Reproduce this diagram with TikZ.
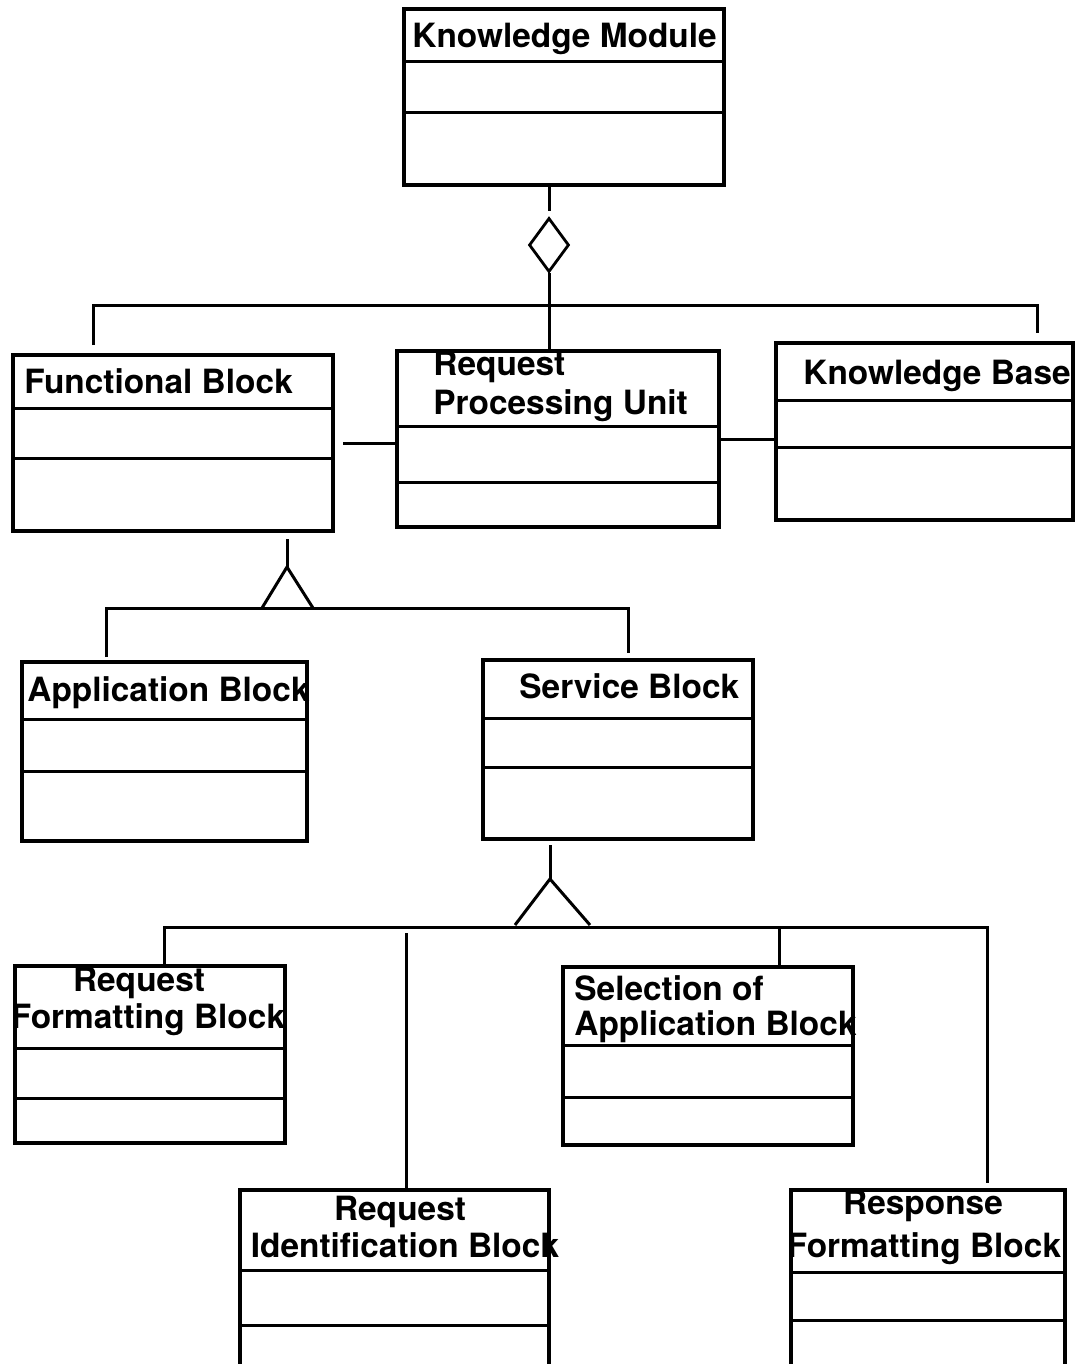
\documentclass[tikz,border=0pt]{standalone}
\usepackage{fontspec}
\setmainfont{TeX Gyre Heros}
\usetikzlibrary{shapes.geometric}

\tikzset{
  classbox/.style={draw,line width=1.6pt,inner sep=0pt,outer sep=0pt,anchor=north west},
  compart/.style={line width=1.5pt},
  classname/.style={font=\bfseries\fontsize{16.7}{19}\selectfont,inner sep=0pt},
  link/.style={line width=1.5pt},
}

% class box with two compartment lines:
% name, x, y (top left), width, height, 1st and 2nd divider below the top
\newcommand{\umlclass}[7]{%
  \node[classbox,minimum width=#4*0.5pt,minimum height=#5*0.5pt] (#1) at (#2,#3) {};
  \draw[compart] ([yshift=-#6*0.5pt]#1.north west) -- ([yshift=-#6*0.5pt]#1.north east);
  \draw[compart] ([yshift=-#7*0.5pt]#1.north west) -- ([yshift=-#7*0.5pt]#1.north east);
}

\begin{document}
\begin{tikzpicture}[x=0.5pt,y=-0.5pt]
  \clip (0,0) rectangle (1080,1364);

  % classes
  \umlclass{km}{404}{9}{320}{176}{53}{104}
  \umlclass{fb}{13}{355}{320}{176}{53}{103}
  \umlclass{rpu}{397}{351}{322}{176}{75}{131}
  \umlclass{kb}{776}{343}{297}{177}{57}{104}
  \umlclass{ab}{22}{662}{285}{179}{57}{109}
  \umlclass{sb}{483}{660}{270}{179}{58}{107}
  \umlclass{rfb}{15}{966}{270}{177}{82}{132}
  \umlclass{sab}{563}{967}{290}{178}{78}{130}
  \umlclass{rib}{240}{1190}{309}{220}{80}{135}
  \umlclass{rsp}{791}{1190}{274}{220}{82}{130}

  % class names
  \node[classname,anchor=base west] (kmname) at (412,48) {Knowledge Module};
  \node[classname,anchor=base west] (fbname) at (24,393) {Functional Block};
  \node[classname,anchor=base west] (rpuname1) at (433,375) {Request};
  \node[classname,anchor=base west] (rpuname2) at (433,414) {Processing Unit};
  \node[classname,anchor=base west] (kbname) at (803,384) {Knowledge Base};
  \node[classname,anchor=base west] (abname) at (27,701) {Application Block};
  \node[classname,anchor=base west] (sbname) at (519,698) {Service Block};
  \node[classname,anchor=base] (rfbname1) at (139,991) {Request};
  \node[classname,anchor=base] (rfbname2) at (148,1028) {Formatting Block};
  \node[classname,anchor=base west] (sabname1) at (574,1000) {Selection of};
  \node[classname,anchor=base west] (sabname2) at (574,1035) {Application Block};
  \node[classname,anchor=base] (ribname1) at (400,1220) {Request};
  \node[classname,anchor=base] (ribname2) at (405,1257) {Identification Block};
  \node[classname,anchor=base] (rspname1) at (923,1214) {Response};
  \node[classname,anchor=base] (rspname2) at (924,1257) {Formatting Block};

  % aggregation
  \node[draw,diamond,line width=1.4pt,minimum width=20pt,minimum height=27pt,inner sep=0pt] (agg) at (549,245) {};
  \draw[link,shorten <=1pt,shorten >=3pt] (agg.north |- km.south) -- (agg.north);
  \draw[link] (agg.south) -- (agg.south |- rpu.north);

  \coordinate (fbjoin) at (93,305);
  \coordinate (kbjoin) at (1037,305);
  \draw[link,shorten <=5pt,shorten >=5pt] (fbjoin |- fb.north) -- (fbjoin) -- (kbjoin) -- (kbjoin |- kb.north);

  % associations
  \draw[link,shorten <=5pt] (fb.east) -- (rpu.west |- fb.east);
  \draw[link] (rpu.east) -- (kb.west |- rpu.east);

  % generalisation of the functional block
  \coordinate (gen1) at (287,567);
  \draw[link,shorten <=4pt] (gen1 |- fb.south) -- (gen1);
  \draw[link] (262,608) -- (gen1) -- (313,608);
  \coordinate (abjoin) at (106,608);
  \coordinate (sbjoin) at (628,608);
  \draw[link,shorten <=2.5pt,shorten >=3.5pt] (abjoin |- ab.north) -- (abjoin) -- (sbjoin) -- (sbjoin |- sb.north);

  % generalisation of the service block
  \coordinate (gen2) at (550,879);
  \draw[link,shorten <=3pt] (gen2 |- sb.south) -- (gen2);
  \draw[link] (515,925) -- (gen2) -- (590,925);
  \coordinate (rfbjoin) at (164,927);
  \coordinate (ribjoin) at (406,927);
  \coordinate (sabjoin) at (779,927);
  \coordinate (rspjoin) at (987,927);
  \draw[link,shorten >=3.5pt] (rfbjoin |- rfb.north) -- (rfbjoin) -- (rspjoin) -- (rspjoin |- rsp.north);
  \draw[link,shorten <=3pt] (ribjoin) -- (ribjoin |- rib.north);
  \draw[link] (sabjoin) -- (sabjoin |- sab.north);
\end{tikzpicture}
\end{document}
